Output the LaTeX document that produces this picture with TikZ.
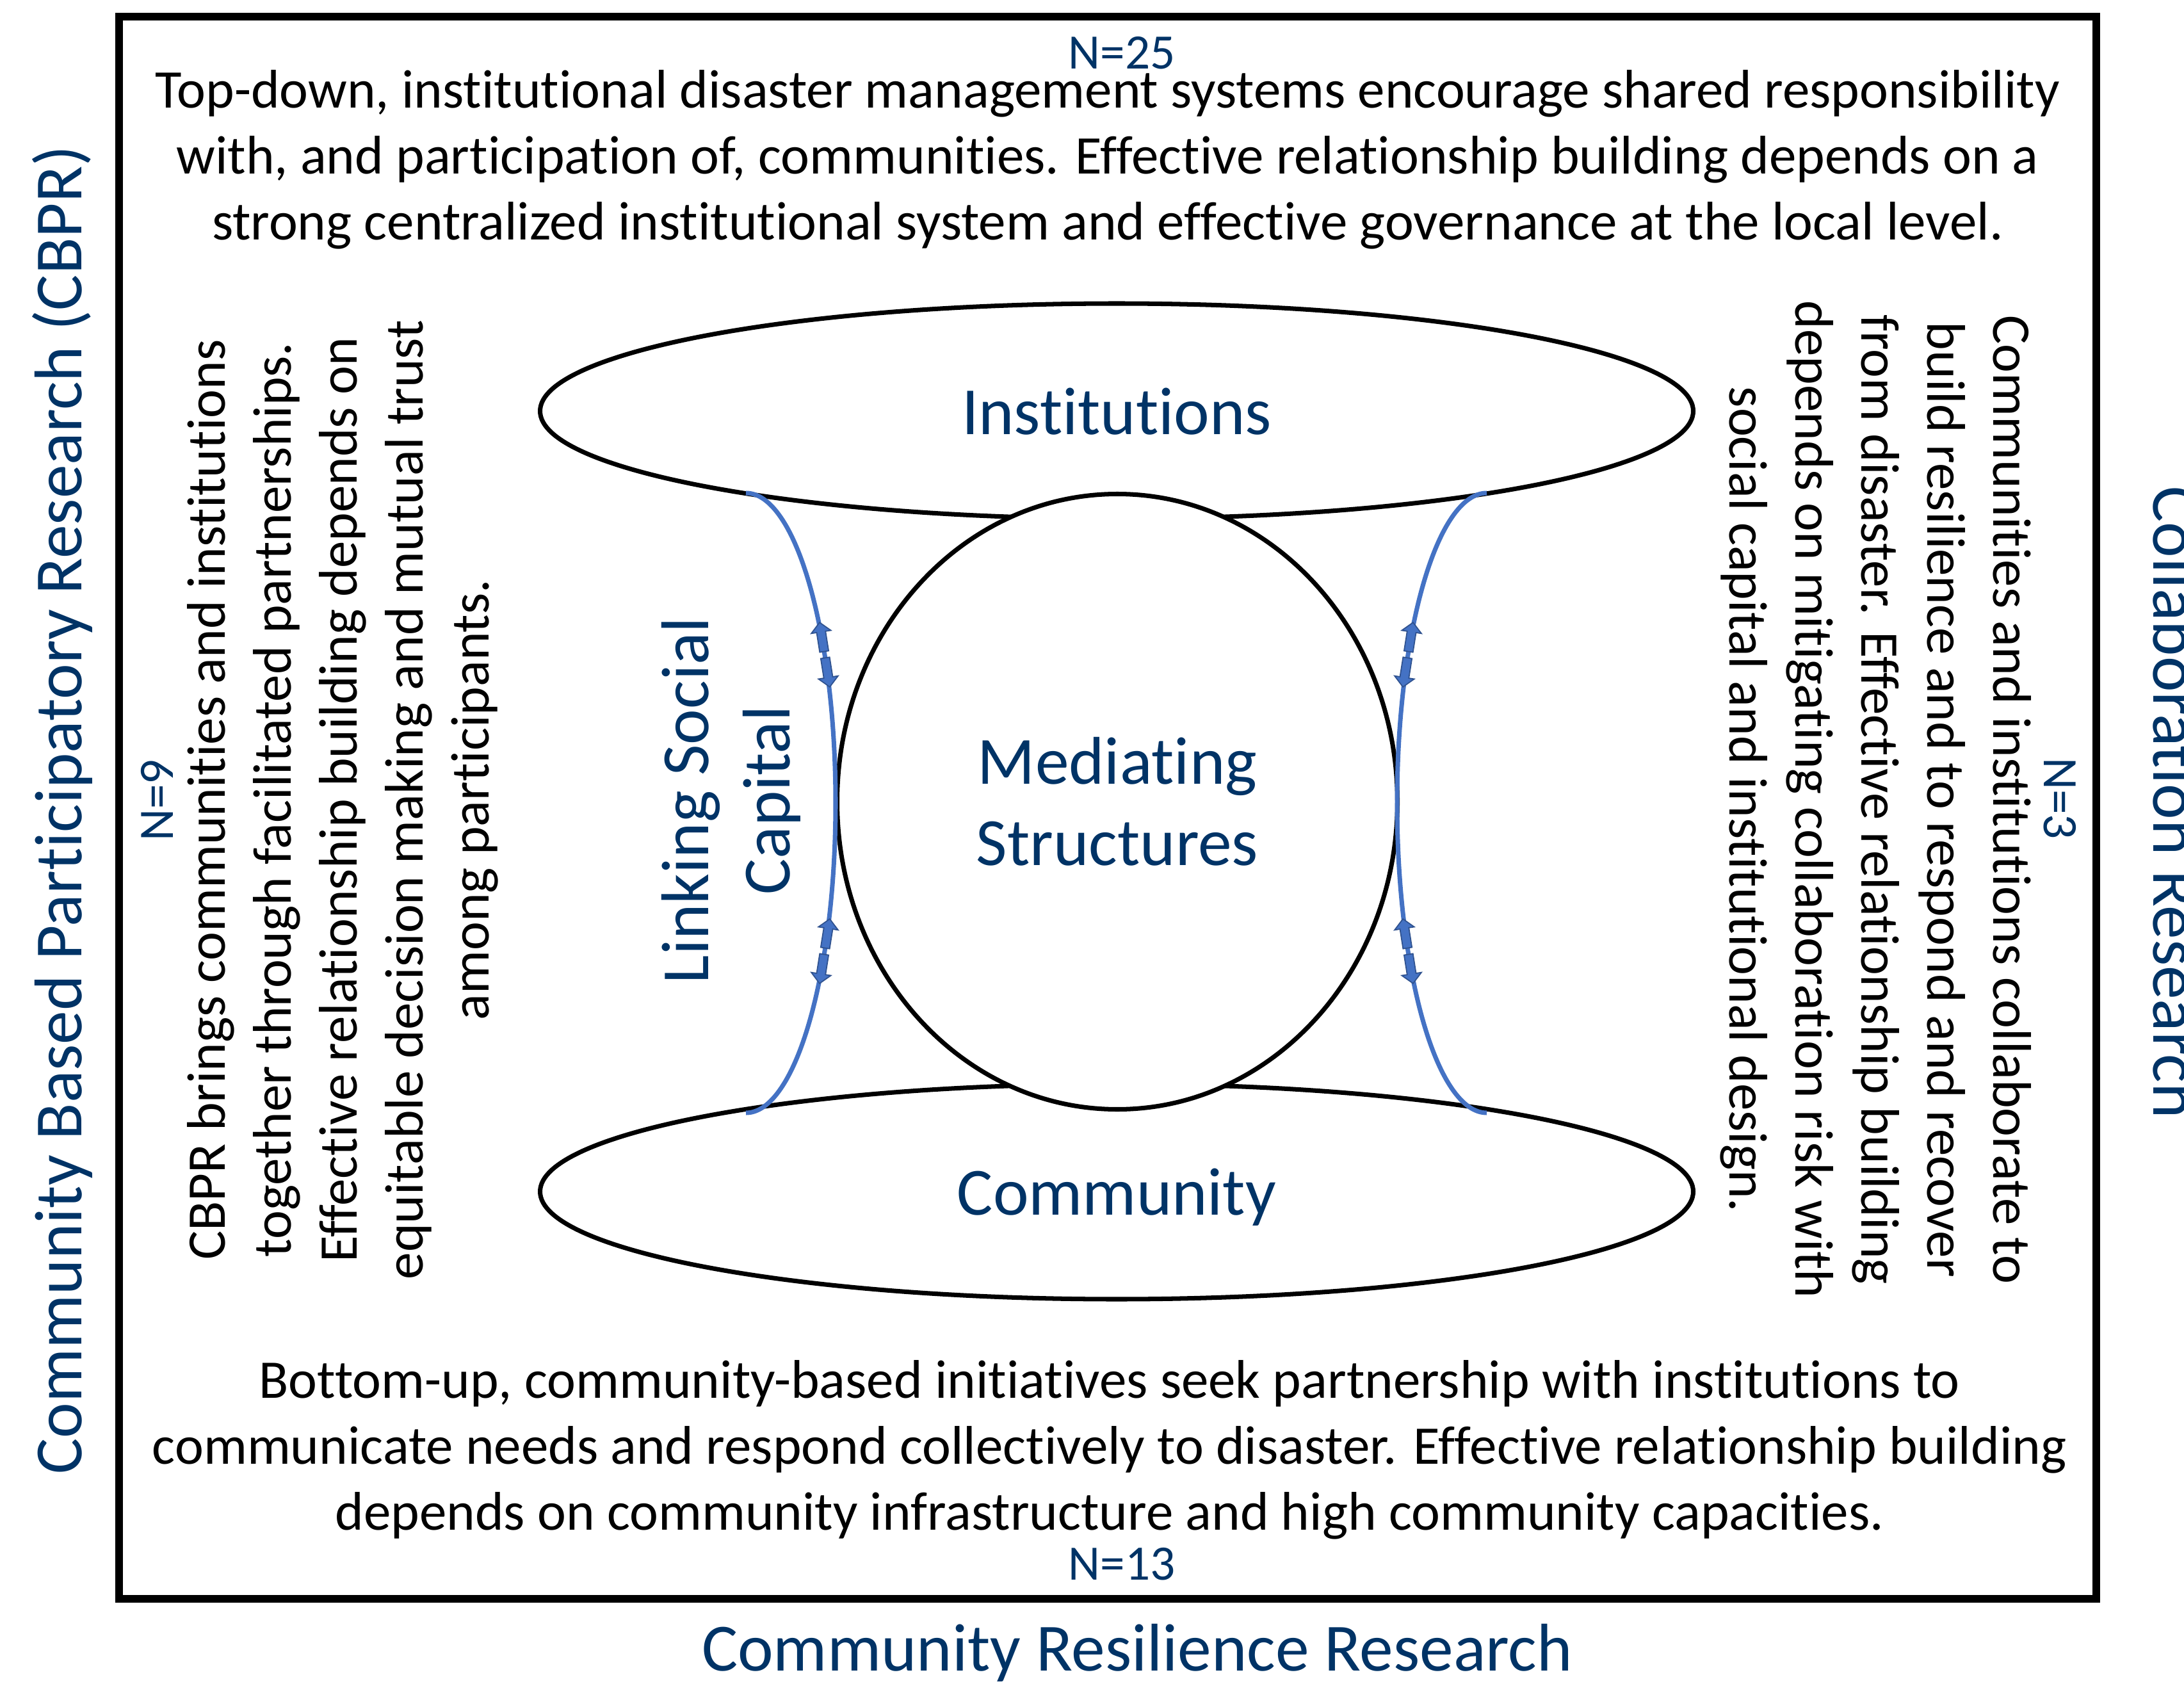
\documentclass[tikz,border=0pt]{standalone}
\usepackage{fontspec}
\setmainfont{Carlito}[Ligatures=NoCommon]
\usepackage{xcolor}
\usepackage{tikz}
\usetikzlibrary{shapes.geometric,decorations.markings}
\definecolor{cNavy}{HTML}{003366}
\definecolor{cLink}{HTML}{4472C4}
\definecolor{cLinkDark}{HTML}{2F528F}

% two small block arrows pointing away from each other (path frame)
\newcommand{\splitarrows}{%
  \filldraw[cLinkDark, fill=cLink, line width=0.5pt, line join=miter]
    (0.05,-0.07) -- (0.36,-0.07) -- (0.36,-0.155) -- (0.51,0) -- (0.36,0.155) -- (0.36,0.07) -- (0.05,0.07) -- cycle
    (-0.05,-0.07) -- (-0.36,-0.07) -- (-0.36,-0.155) -- (-0.51,0) -- (-0.36,0.155) -- (-0.36,0.07) -- (-0.05,0.07) -- cycle;}

\begin{document}
\begin{tikzpicture}[
  every node/.style={font=\fontsize{24.2}{29.3}\selectfont, align=center},
  frameline/.style={line width=3.4pt},
  ring/.style={ellipse, draw, line width=2pt, font=\fontsize{30}{36}\selectfont, text=cNavy},
  band/.style={ring, minimum width=18.01cm, minimum height=3.36cm, text depth=0pt},
  axislabel/.style={font=\fontsize{30}{36}\selectfont, text=cNavy},
  count/.style={font=\fontsize{22}{26}\selectfont, text=cNavy},
  link/.style={cLink, line width=2pt, postaction={decorate},
    decoration={markings,
      mark=at position 0.28 with {\splitarrows},
      mark=at position 0.72 with {\splitarrows}}},
]
\useasboundingbox (0,0) rectangle (34.11,-26.30);

% ─── FRAME ───
\draw[frameline] (1.86,-0.26) rectangle (32.74,-24.97);

% ─── ELLIPSES ───
\node[band] (inst) at (17.44,-6.42) {Institutions};
\node[band] (comm) at (17.44,-18.61) {Community};
\node[ring, fill=white, minimum width=8.75cm, minimum height=9.61cm] (med) at (17.45,-12.52) {Mediating\\Structures};

% ─── LINKING SOCIAL CAPITAL ───
\coordinate (lsTop) at (11.65,-7.70);
\coordinate (rsTop) at (23.22,-7.70);
\draw[link] (lsTop) arc[start angle=90, end angle=-90, x radius=1.40, y radius=4.84];
\draw[link] (rsTop) arc[start angle=90, end angle=270, x radius=1.40, y radius=4.84];
\node[axislabel, rotate=90] (lsc) at (11.42,-12.50) {Linking Social\\Capital};

% ─── COUNTS ───
\node[count, anchor=base] (nTop) at (17.52,-1.08) {N=25};
\node[count, anchor=base] (nBot) at (17.52,-24.67) {N=13};
\node[count, rotate=90] (nLeft) at (2.45,-12.50) {N=9};
\node[count, rotate=-90] (nRight) at (32.17,-12.47) {N=3};

% ─── DESCRIPTIONS ───
\node (topText) at (17.30,-2.49) {Top-down, institutional disaster management systems encourage shared responsibility\\with, and participation of, communities. Effective relationship building depends on a\\strong centralized institutional system and effective governance at the local level.};
\node (botText) at (17.33,-22.64) {Bottom-up, community-based initiatives seek partnership with institutions to\\communicate needs and respond collectively to disaster. Effective relationship building\\depends on community infrastructure and high community capacities.};
\node[rotate=90] (leftText) at (5.35,-12.49) {CBPR brings communities and institutions\\together through facilitated partnerships.\\Effective relationship building depends on\\equitable decision making and mutual trust\\among participants.};
\node[rotate=-90] (rightText) at (29.30,-12.49) {Communities and institutions collaborate to\\build resilience and to respond and recover\\from disaster. Effective relationship building\\depends on mitigating collaboration risk with\\social capital and institutional design.};

% ─── AXES ───
\node[axislabel, anchor=base, rotate=90] (cbpr) at (1.27,-12.65) {Community Based Participatory Research (CBPR)};
\node[axislabel, anchor=base] (crr) at (17.76,-26.09) {Community Resilience Research};
\node[axislabel, anchor=base, rotate=-90] (collab) at (33.63,-12.53) {Collaboration Research};
\end{tikzpicture}
\end{document}
